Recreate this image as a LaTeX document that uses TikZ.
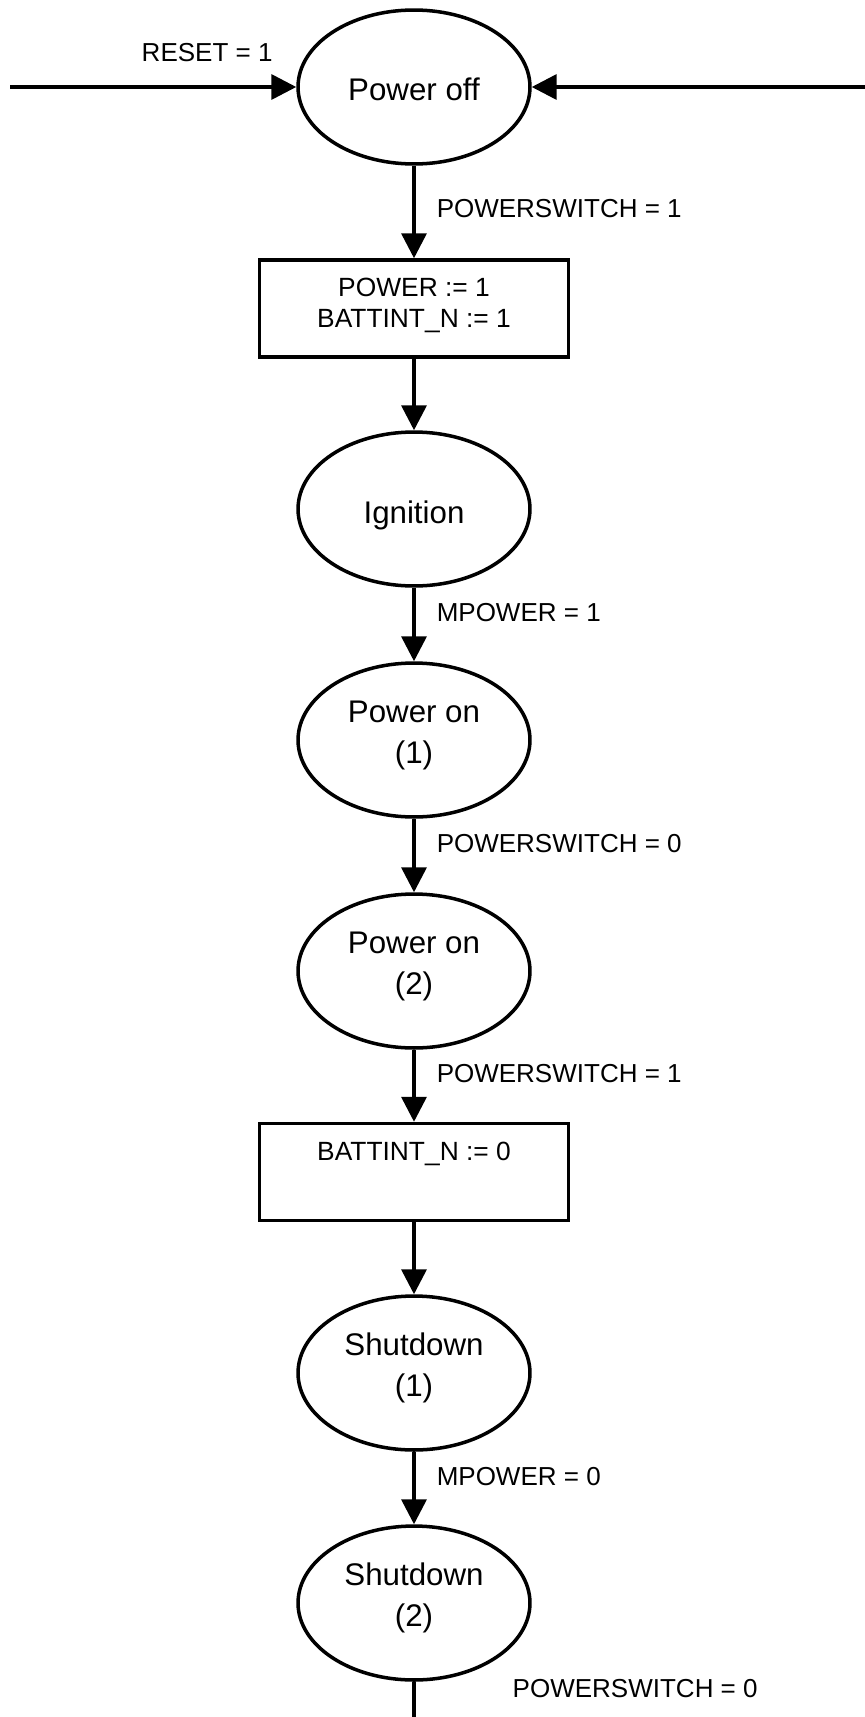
\documentclass[tikz,border=0pt]{standalone}
\usepackage{fontspec}
\setmainfont{Liberation Sans}
\usetikzlibrary{arrows.meta,shapes.geometric}
% state names: last baseline lowered below the centre of the ellipse
\newcommand{\stname}[2]{\raisebox{#1}[0pt][0pt]{\begin{tabular}[b]{@{}c@{}}#2\end{tabular}}}

\begin{document}
\begin{tikzpicture}[x=0.02cm,y=-0.02cm,
  state/.style={draw,ellipse,line width=2pt,minimum width=4.64cm,minimum height=3.08cm,inner sep=0pt,font=\fontsize{17.8}{22.8}\selectfont},
  action/.style={draw,rectangle,line width=2pt,minimum width=6.18cm,minimum height=1.94cm,inner sep=0pt},
  acttext/.style={anchor=north,inner sep=0pt,yshift=-0.39cm,align=center,font=\fontsize{15}{17.6}\selectfont},
  cond/.style={anchor=west,inner sep=0pt,xshift=0.42cm,font=\fontsize{14.8}{17}\selectfont},
  flow/.style={line width=2pt,-{Triangle[length=0.5cm,width=0.5cm]}}]
\useasboundingbox (0,0) rectangle (865,1717);

\node[state] (poweroff) at (414,87) {\stname{-0.28cm}{Power off}};
\node[action,label={[acttext]north:POWER := 1\\BATTINT\_N := 1}] (actpower) at (414,308.5) {};
\node[state] (ignition) at (414,509) {\stname{-0.29cm}{Ignition}};
\node[state] (poweron1) at (414,740) {\stname{-0.46cm}{Power on\\(1)}};
\node[state] (poweron2) at (414,971) {\stname{-0.46cm}{Power on\\(2)}};
\node[action,label={[acttext]north:BATTINT\_N := 0}] (actbatt) at (414,1172) {};
\node[state] (shutdown1) at (414,1373) {\stname{-0.46cm}{Shutdown\\(1)}};
\node[state] (shutdown2) at (414,1603) {\stname{-0.46cm}{Shutdown\\(2)}};

\coordinate (resetin) at (10,87);
\coordinate (rightin) at (865,87);
\coordinate (exit) at (414,1717);

\draw[flow] (resetin) -- node[pos=1,anchor=south east,inner sep=0pt,xshift=-0.44cm,yshift=0.46cm,font=\fontsize{14.8}{17}\selectfont]{RESET = 1} (poweroff);
\draw[flow] (rightin) -- (poweroff);
\draw[flow] (poweroff) -- node[cond,pos=0.46]{POWERSWITCH = 1} (actpower);
\draw[flow] (actpower) -- (ignition);
\draw[flow] (ignition) -- node[cond,pos=0.34]{MPOWER = 1} (poweron1);
\draw[flow] (poweron1) -- node[cond,pos=0.34]{POWERSWITCH = 0} (poweron2);
\draw[flow] (poweron2) -- node[cond,pos=0.33]{POWERSWITCH = 1} (actbatt);
\draw[flow] (actbatt) -- (shutdown1);
\draw[flow] (shutdown1) -- node[cond,pos=0.34]{MPOWER = 0} (shutdown2);
\draw[line width=2pt] (shutdown2) -- node[cond,pos=0.19,xshift=1.52cm]{POWERSWITCH = 0} (exit);
\end{tikzpicture}
\end{document}
